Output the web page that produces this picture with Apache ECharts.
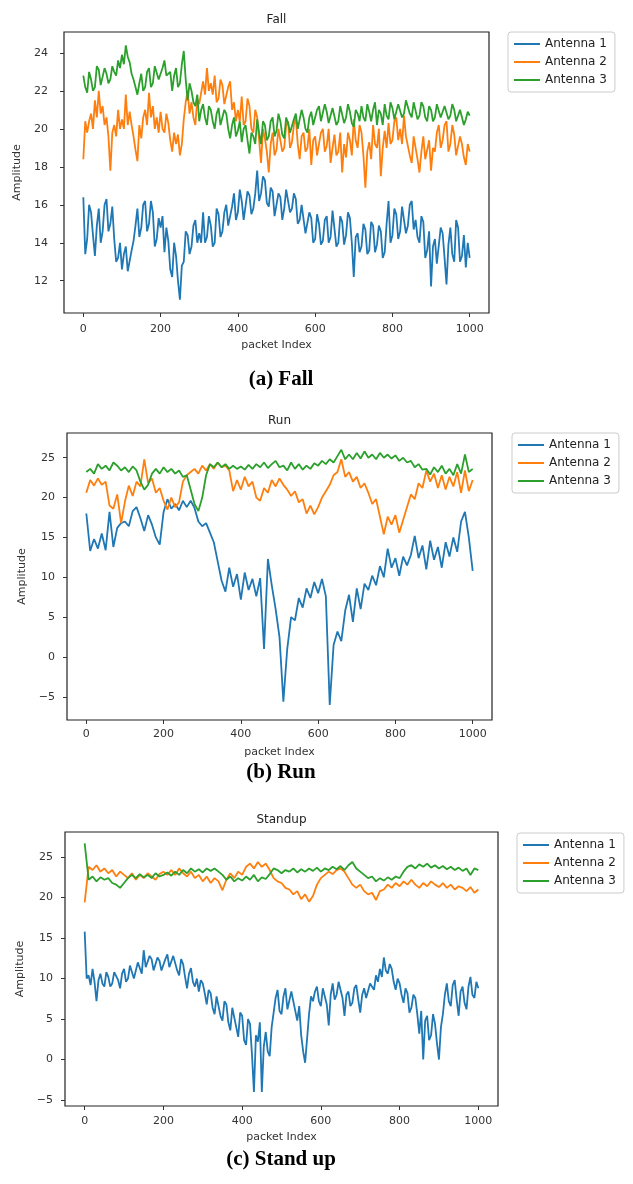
<!DOCTYPE html>
<html>
<head>
<meta charset="utf-8">
<script src="https://cdn.jsdelivr.net/npm/echarts@6/dist/echarts.min.js"></script>
<style>
html,body{margin:0;padding:0;background:#fff;}
#container{width:633px;height:1184px;}
</style>
</head>
<body>
<div id="container"></div>
<script>
// packet index runs 0..1000; the noisy traces are read every 5 packets, the smoother ones every 10
var lastPacket = 1000;
var seriesNames = ['Antenna 1', 'Antenna 2', 'Antenna 3'];
var colors = ['#1f77b4', '#ff7f0e', '#2ca02c'];
var xTicks = [0, 200, 400, 600, 800, 1000];
var fallTicks = [12, 14, 16, 18, 20, 22, 24];
var runTicks = [-5, 0, 5, 10, 15, 20, 25];
var standTicks = [-5, 0, 5, 10, 15, 20, 25];

// Fall, every 5 packets
var fallAnt1 = [
  16.4, 13.4, 14.2, 16.0, 15.6, 14.4, 13.3, 14.9, 15.8, 14.0,
  14.6, 16.0, 16.3, 14.6, 15.0, 15.9, 14.2, 13.0, 13.2, 14.0,
  12.6, 13.4, 13.8, 12.5, 12.4, 13.6, 14.1, 14.9, 15.8, 14.3,
  14.8, 16.0, 16.2, 14.6, 15.0, 16.2, 15.6, 13.8, 14.2, 15.3,
  14.8, 15.4, 13.5, 14.8, 14.1, 12.6, 12.2, 14.0, 13.3, 12.0,
  11.0, 12.8, 13.0, 14.6, 14.4, 13.4, 13.8, 14.9, 15.2, 14.0,
  14.5, 14.0, 15.6, 14.0, 14.3, 15.4, 14.9, 13.8, 14.0, 15.8,
  15.5, 14.3, 14.6, 15.6, 16.0, 14.9, 15.0, 15.9, 16.6, 15.2,
  15.6, 16.8, 16.2, 15.2, 15.3, 16.7, 16.5, 15.5, 15.8, 16.6,
  17.8, 16.2, 16.6, 17.5, 17.3, 16.1, 15.9, 16.9, 16.7, 15.4,
  15.5, 16.6, 16.4, 15.2, 15.8, 16.8, 16.9, 15.6, 15.8, 16.6,
  16.3, 15.0, 15.2, 16.0, 15.9, 14.5, 14.6, 15.6, 15.3, 14.0,
  14.2, 15.5, 15.0, 13.9, 14.1, 15.2, 15.4, 14.0, 14.3, 15.7,
  15.6, 13.8, 14.0, 15.4, 15.1, 13.9, 14.4, 15.6, 15.3, 14.0,
  12.2, 14.3, 14.5, 13.5, 13.8, 15.0, 14.7, 13.4, 13.6, 15.1,
  14.9, 13.5, 13.9, 14.9, 14.6, 13.2, 13.5, 15.0, 16.2, 14.0,
  14.4, 15.8, 15.5, 14.2, 14.6, 15.9, 15.8, 14.5, 14.9, 16.0,
  16.2, 14.7, 15.2, 14.3, 14.0, 15.4, 15.1, 13.2, 13.6, 14.6,
  11.7, 13.8, 14.2, 12.9, 12.8, 14.8, 14.5, 13.2, 11.8, 13.9,
  14.8, 13.4, 13.0, 15.2, 14.8, 13.0, 13.3, 14.4, 12.7, 14.0,
  13.2
];
var fallAnt2 = [
  18.4, 20.4, 19.8, 20.4, 20.8, 20.0, 21.5, 20.6, 22.0, 20.8,
  21.2, 20.2, 20.6, 19.6, 17.8, 19.8, 20.2, 19.6, 21.0, 20.0,
  20.5, 20.0, 21.8, 20.2, 20.9, 20.2, 19.6, 18.9, 18.3, 20.2,
  19.5, 20.6, 21.0, 20.2, 21.9, 20.6, 21.2, 20.0, 20.6, 19.8,
  20.9, 20.0, 19.8, 20.8, 20.3, 19.4, 18.8, 19.8, 19.2, 19.7,
  18.6, 19.2, 20.5, 21.4, 22.0, 20.8, 21.4, 20.6, 20.2, 21.6,
  21.3, 21.9, 22.5, 21.8, 23.2, 22.0, 22.4, 21.8, 22.8, 21.4,
  21.6, 22.6, 22.3, 21.3, 21.2, 22.2, 22.5, 21.0, 21.4, 20.4,
  21.0, 20.4, 21.7, 20.2, 20.4, 21.6, 21.2, 20.0, 19.8, 21.0,
  20.6, 19.4, 18.2, 20.0, 19.5, 18.8, 17.7, 19.2, 19.8, 18.6,
  18.9, 20.0, 19.9, 18.8, 19.0, 20.2, 20.4, 19.0, 19.3, 20.2,
  20.6, 19.2, 18.4, 19.6, 19.8, 18.8, 19.0, 20.0, 18.1, 19.4,
  19.6, 18.6, 18.6, 19.8, 20.0, 18.8, 19.1, 20.0, 18.2, 19.0,
  19.7, 18.6, 18.8, 19.8, 17.7, 19.2, 18.5, 19.8, 19.4, 18.6,
  20.5, 19.4, 19.0, 20.2, 19.8, 18.6, 16.9, 18.8, 19.3, 18.4,
  20.2, 19.2, 19.0, 20.0, 17.5, 19.0, 19.9, 19.0, 20.3, 19.2,
  19.4, 20.4, 20.6, 19.4, 20.0, 19.2, 20.7, 19.6, 19.5, 18.6,
  18.2, 19.6, 19.0, 18.4, 17.7, 18.8, 19.6, 18.4, 18.5, 19.4,
  17.8, 19.0, 18.8, 19.8, 20.2, 19.0, 19.4, 20.2, 20.4, 18.8,
  19.2, 20.2, 19.7, 18.6, 18.6, 19.6, 19.2, 18.5, 18.1, 19.2,
  18.8
];
var fallAnt3 = [
  22.8, 22.2, 21.9, 23.0, 22.6, 22.0, 22.2, 23.3, 23.1, 22.3,
  22.4, 23.2, 22.9, 22.4, 22.6, 23.3, 23.0, 22.8, 23.6, 23.2,
  23.9, 23.4, 24.4, 23.8, 23.5, 22.9, 22.6, 22.2, 21.8, 22.4,
  22.9, 22.0, 22.2, 23.0, 23.2, 22.2, 22.4, 23.3, 23.4, 22.6,
  22.5, 23.2, 23.6, 22.8, 22.7, 23.0, 22.0, 22.8, 23.2, 22.2,
  22.4, 23.4, 24.1, 22.6, 21.5, 22.4, 22.0, 21.4, 21.2, 21.8,
  20.4, 21.0, 21.3, 20.6, 20.2, 21.2, 21.0, 20.4, 20.0, 20.8,
  21.1, 20.2, 20.3, 21.0, 20.8, 20.0, 19.5, 20.2, 20.6, 19.6,
  19.9, 20.4, 19.3, 20.0, 20.2, 19.4, 18.7, 19.8, 19.6, 19.2,
  20.5, 19.8, 19.2, 20.4, 20.2, 19.4, 19.6, 20.4, 20.6, 19.6,
  19.9, 20.8, 20.4, 19.7, 19.5, 20.6, 20.3, 19.8, 19.8, 20.5,
  20.8, 20.0, 20.0, 21.0, 20.6, 20.0, 19.8, 20.6, 20.9, 20.2,
  20.3, 21.0, 21.2, 20.4, 20.5, 21.3, 20.9, 20.3, 20.2, 21.1,
  21.0, 20.2, 20.4, 21.2, 21.1, 20.3, 20.6, 21.3, 20.9, 20.3,
  20.1, 21.0, 20.8, 20.4, 21.2, 20.6, 20.4, 21.3, 20.9, 20.4,
  21.0, 21.4, 20.2, 21.0, 20.8, 20.2, 21.3, 20.7, 20.5, 21.4,
  21.1, 20.5, 20.6, 21.3, 21.4, 20.6, 20.8, 21.5, 21.6, 20.8,
  20.6, 21.4, 21.3, 20.5, 20.7, 21.4, 21.2, 20.6, 20.4, 21.2,
  21.0, 20.4, 20.6, 21.3, 21.2, 20.6, 20.5, 21.2, 21.3, 20.5,
  20.7, 21.3, 21.0, 20.4, 20.3, 21.0, 20.9, 20.2, 20.5, 20.9,
  20.7
];

// Run, every 10 packets
var runAnt1 = [
  18.0, 13.3, 14.8, 13.6, 15.5, 13.4, 18.2, 13.8, 16.2, 16.8,
  17.0, 16.4, 18.3, 18.8, 17.4, 15.8, 17.8, 16.6, 15.0, 14.1,
  18.2, 19.8, 18.6, 19.2, 18.4, 19.6, 18.8, 19.6, 18.7, 17.0,
  16.4, 16.8, 15.6, 14.4, 12.0, 9.6, 8.2, 11.2, 8.8, 10.4,
  7.2, 10.6, 8.4, 9.8, 7.6, 9.9, 1.0, 12.3, 9.0, 6.0,
  2.5, -5.6, 1.0, 5.0, 4.6, 7.4, 6.2, 8.6, 7.4, 9.4,
  8.0, 9.8, 7.6, -6.0, 1.5, 3.2, 2.0, 5.8, 7.8, 4.4,
  8.6, 6.0, 9.2, 8.4, 10.2, 9.0, 11.4, 10.0, 13.6, 11.2,
  12.4, 10.2, 12.6, 11.5, 12.8, 15.2, 12.4, 14.0, 11.0, 14.6,
  12.2, 13.8, 11.2, 14.4, 12.6, 15.0, 13.2, 17.0, 18.2, 15.0,
  10.8
];
var runAnt2 = [
  20.6, 22.2, 21.5, 22.4, 21.6, 22.0, 19.0, 18.6, 20.4, 16.8,
  19.5, 21.5, 20.2, 22.0, 21.4, 24.8, 21.8, 22.4, 20.6, 21.2,
  19.6, 18.5, 20.0, 18.8, 19.4, 22.0, 22.8, 23.2, 23.6, 23.0,
  24.0, 23.4, 24.2, 23.6, 24.4, 23.8, 24.0, 23.4, 20.8, 22.2,
  21.0, 22.6, 21.4, 22.0, 20.0, 19.6, 21.2, 20.6, 22.2, 21.4,
  22.4, 21.6, 21.0, 20.2, 20.8, 19.4, 19.8, 18.0, 19.0, 17.9,
  18.8, 20.0, 20.8, 21.6, 22.8, 23.2, 24.8, 22.6, 23.2, 22.0,
  22.6, 21.2, 21.8, 20.6, 19.2, 19.8, 17.6, 15.4, 17.6, 16.6,
  17.8, 15.6, 17.2, 18.8, 20.4, 19.8, 21.8, 21.2, 23.4, 22.0,
  23.0, 21.2, 22.8, 21.0, 22.6, 21.4, 23.2, 20.6, 23.4, 20.8,
  22.2
];
var runAnt3 = [
  23.2, 23.6, 23.0, 24.2, 23.6, 24.0, 23.4, 24.4, 24.0, 23.4,
  23.8, 23.2, 23.9, 23.4, 22.0, 21.0, 21.6, 23.0, 23.6, 23.0,
  23.8, 23.2, 23.6, 23.0, 23.4, 22.6, 22.8, 21.0, 19.2, 18.3,
  20.0, 22.8, 24.2, 23.8, 24.4, 23.8, 24.2, 23.6, 24.0, 23.6,
  23.9, 23.5, 24.1, 23.6, 24.2, 23.8, 24.4, 23.7, 24.2, 24.6,
  23.8, 24.0, 23.4, 24.4, 23.6, 24.2, 23.5, 24.0, 23.6, 24.3,
  24.0, 24.6, 24.2, 24.8, 24.4, 25.2, 26.0, 24.8, 25.4, 24.8,
  25.6, 24.9, 25.8, 25.0, 25.4, 24.8, 25.6, 25.0, 25.4, 24.9,
  25.3, 24.6, 25.0, 24.4, 24.6, 23.8, 24.2, 23.5, 23.6, 22.9,
  23.8, 23.2, 24.0, 23.0, 23.6, 22.8, 24.2, 23.0, 25.4, 23.2,
  23.6
];

// Standup: antenna 1 every 5 packets, antennas 2 and 3 every 10
var standAnt1 = [
  15.8, 10.0, 10.4, 9.2, 11.2, 9.6, 7.2, 9.8, 10.6, 9.4,
  9.0, 10.8, 10.2, 9.0, 9.4, 10.8, 11.0, 9.8, 8.8, 10.6,
  11.2, 9.6, 10.0, 11.6, 11.4, 10.0, 10.2, 12.0, 11.8, 10.6,
  13.5, 11.4, 11.2, 12.8, 12.4, 11.0, 10.8, 12.6, 12.2, 11.0,
  11.0, 12.4, 13.0, 11.4, 11.4, 12.8, 12.6, 11.0, 10.4, 12.4,
  11.8, 10.2, 8.8, 10.6, 11.3, 9.6, 9.0, 10.0, 8.4, 9.8,
  9.4, 8.2, 6.8, 8.6, 8.2, 6.4, 5.6, 7.8, 7.6, 5.4,
  4.8, 7.2, 6.8, 4.6, 3.6, 6.4, 6.2, 4.0, 2.8, 5.8,
  5.4, 2.4, 1.8, 5.0, 4.4, 0.6, -4.0, 3.0, 2.2, 4.6,
  -4.0, 1.6, 3.4, 1.0, 0.4, 4.0, 5.8, 7.6, 8.6, 6.0,
  5.6, 7.8, 8.8, 6.2, 6.4, 8.4, 8.2, 6.0, 4.8, 6.6,
  3.0, 1.0, -0.4, 2.6, 5.6, 7.8, 7.2, 8.4, 9.0, 7.2,
  6.6, 8.8, 8.6, 6.8, 4.2, 8.0, 9.4, 7.4, 8.0, 9.6,
  9.6, 7.6, 5.4, 8.0, 8.4, 6.6, 7.0, 8.8, 9.2, 7.4,
  5.8, 8.0, 8.8, 7.6, 7.4, 9.4, 9.6, 8.6, 10.4, 9.6,
  11.2, 10.2, 12.6, 11.0, 10.6, 11.8, 11.2, 9.6, 8.6, 10.0,
  9.4, 8.0, 7.0, 8.8, 8.2, 5.8, 6.4, 8.0, 7.6, 5.6,
  3.2, 6.0, 0.0, 4.8, 5.4, 2.4, 3.0, 5.6, 4.4, 2.0,
  0.0, 4.0, 5.6, 8.0, 9.4, 7.2, 6.6, 9.2, 9.8, 7.4,
  5.4, 8.4, 9.0, 7.0, 6.2, 9.0, 10.2, 8.0, 7.6, 9.6,
  8.8
];
var standAnt2 = [
  19.4, 23.8, 23.4, 24.0, 23.2, 23.6, 23.0, 23.4, 22.6, 23.2,
  22.8, 22.4, 23.0, 22.2, 22.8, 22.4, 23.0, 22.6, 22.2, 22.9,
  23.2, 22.8, 23.4, 22.8, 23.6, 23.0, 22.6, 23.2, 22.4, 22.8,
  22.0, 22.6, 21.8, 22.4, 22.0, 20.9, 22.2, 23.0, 22.4, 23.2,
  22.8, 23.8, 24.2, 23.6, 24.4, 23.8, 24.2, 23.4, 22.4, 22.0,
  21.8, 21.2, 21.0, 20.4, 20.8, 19.8, 20.4, 19.5, 20.2, 21.6,
  22.4, 22.8, 23.2, 22.9, 23.4, 23.6, 23.2, 22.4, 21.6, 21.2,
  21.6, 20.8, 20.4, 20.6, 19.7, 20.8, 21.0, 21.6, 21.2, 21.8,
  21.4, 22.0, 21.6, 22.2, 21.6, 21.2, 21.8, 21.4, 22.0, 21.6,
  21.3, 21.8, 21.2, 21.6, 21.0, 21.4, 21.2, 20.8, 21.3, 20.6,
  21.0
];
var standAnt3 = [
  26.7, 22.2, 22.6, 22.0, 22.5, 22.2, 22.4, 21.8, 21.6, 21.2,
  21.8, 22.4, 22.8, 22.4, 22.9, 22.5, 22.8, 22.4, 23.0, 22.6,
  22.8, 23.1, 22.7, 23.2, 22.8, 23.4, 23.0, 23.6, 23.2, 23.5,
  23.1, 23.6, 23.3, 23.6, 23.2, 22.8, 22.2, 22.6, 22.0, 22.4,
  22.1, 22.6, 22.2, 22.8, 22.0, 22.5, 22.3, 22.9, 23.6, 23.4,
  23.0, 23.4, 23.2, 23.6, 23.1, 23.5, 23.2, 23.6, 23.3, 23.7,
  23.2, 23.6, 23.4, 23.8, 23.5, 23.9, 23.4, 24.0, 24.4, 23.6,
  23.2, 22.8, 22.4, 22.6, 22.0, 22.4, 22.1, 22.5, 22.2, 22.6,
  22.4, 23.2, 23.8, 24.0, 23.6, 24.1, 23.8, 24.2, 23.7, 24.0,
  23.6, 23.9, 23.5, 23.8, 23.4, 23.7, 23.3, 23.6, 22.8, 23.6,
  23.4
];

var panels = [
  {title: 'Fall', caption: '(a) Fall', left: 64, top: 32, width: 425, height: 281,
   yMin: 10.3, yMax: 25.1, yTicks: fallTicks, yMargin: 16, xMargin: 11, yGap: 32, xGap: 27,
   data: [fallAnt1, fallAnt2, fallAnt3], legendLeft: 508, legendTop: 32, captionY: 380},
  {title: 'Run', caption: '(b) Run', left: 67, top: 433, width: 425, height: 287,
   yMin: -7.9, yMax: 28.1, yTicks: runTicks, yMargin: 12, xMargin: 9, yGap: 35, xGap: 27,
   data: [runAnt1, runAnt2, runAnt3], legendLeft: 512, legendTop: 433, captionY: 773},
  {title: 'Standup', caption: '(c) Stand up', left: 65, top: 832, width: 433, height: 274,
   yMin: -5.74, yMax: 28.1, yTicks: standTicks, yMargin: 12, xMargin: 10, yGap: 35, xGap: 26,
   data: [standAnt1, standAnt2, standAnt3], legendLeft: 517, legendTop: 833, captionY: 1160}
];

function toPairs(values) {
  if (values.length !== 101 && values.length !== 201) throw new Error('bad length ' + values.length);
  var step = lastPacket / (values.length - 1);
  return values.map(function (v, k) { return [k * step, v]; });
}

var font = 'DejaVu Sans';
var grid = [], xAxis = [], yAxis = [], series = [], legend = [], graphic = [];

panels.forEach(function (p, n) {
  grid.push({
    left: p.left, top: p.top, width: p.width, height: p.height,
    show: true, borderColor: '#222', borderWidth: 1.2, backgroundColor: '#fff'
  });
  xAxis.push({
    type: 'value', gridIndex: n, min: -50, max: 1050,
    name: 'packet Index', nameLocation: 'middle', nameGap: p.xGap,
    nameTextStyle: {fontFamily: font, fontSize: 11, color: '#333'},
    axisLine: {show: false, onZero: false},
    axisTick: {show: true, length: 4, customValues: xTicks, lineStyle: {color: '#333'}},
    axisLabel: {
      customValues: xTicks, margin: p.xMargin, fontFamily: font, fontSize: 11, color: '#333',
      formatter: function (v) { return String(v); }
    },
    splitLine: {show: false}
  });
  yAxis.push({
    type: 'value', gridIndex: n, min: p.yMin, max: p.yMax,
    name: 'Amplitude', nameLocation: 'middle', nameGap: p.yGap,
    nameTextStyle: {fontFamily: font, fontSize: 11, color: '#333'},
    axisLine: {show: false, onZero: false},
    axisTick: {show: true, length: 4, customValues: p.yTicks, lineStyle: {color: '#333'}},
    axisLabel: {
      customValues: p.yTicks, margin: p.yMargin, fontFamily: font, fontSize: 11, color: '#333',
      formatter: function (v) { return String(v).replace('-', '\u2212'); }
    },
    splitLine: {show: false}
  });
  p.data.forEach(function (vals, s) {
    series.push({
      name: seriesNames[s], type: 'line', xAxisIndex: n, yAxisIndex: n,
      data: toPairs(vals), showSymbol: false, symbol: 'none',
      lineStyle: {color: colors[s], width: 1.8}, itemStyle: {color: colors[s]},
      z: 2 + s
    });
  });
  legend.push({
    data: seriesNames, orient: 'vertical', left: p.legendLeft, top: p.legendTop,
    icon: 'rect', itemWidth: 26, itemHeight: 2, itemGap: 6,
    padding: [6, 8, 6, 6], borderColor: '#ccc', borderWidth: 1, borderRadius: 3,
    textStyle: {fontFamily: font, fontSize: 12, color: '#222'}
  });
  graphic.push({
    type: 'text', x: p.left + p.width / 2, y: p.top - 12,
    style: {text: p.title, fontFamily: font, fontSize: 12, fill: '#222', align: 'center', verticalAlign: 'middle'}
  });
  graphic.push({
    type: 'text', x: 281, y: p.captionY,
    style: {text: p.caption, fontFamily: 'Liberation Serif', fontWeight: 'bold', fontSize: 21, fill: '#000', align: 'center', verticalAlign: 'middle'}
  });
});

var myChart = echarts.init(document.getElementById('container'));
var option = {
  backgroundColor: '#fff',
  animation: false,
  grid: grid,
  xAxis: xAxis,
  yAxis: yAxis,
  legend: legend,
  graphic: graphic,
  series: series
};
myChart.setOption(option, true);
</script>
</body>
</html>
